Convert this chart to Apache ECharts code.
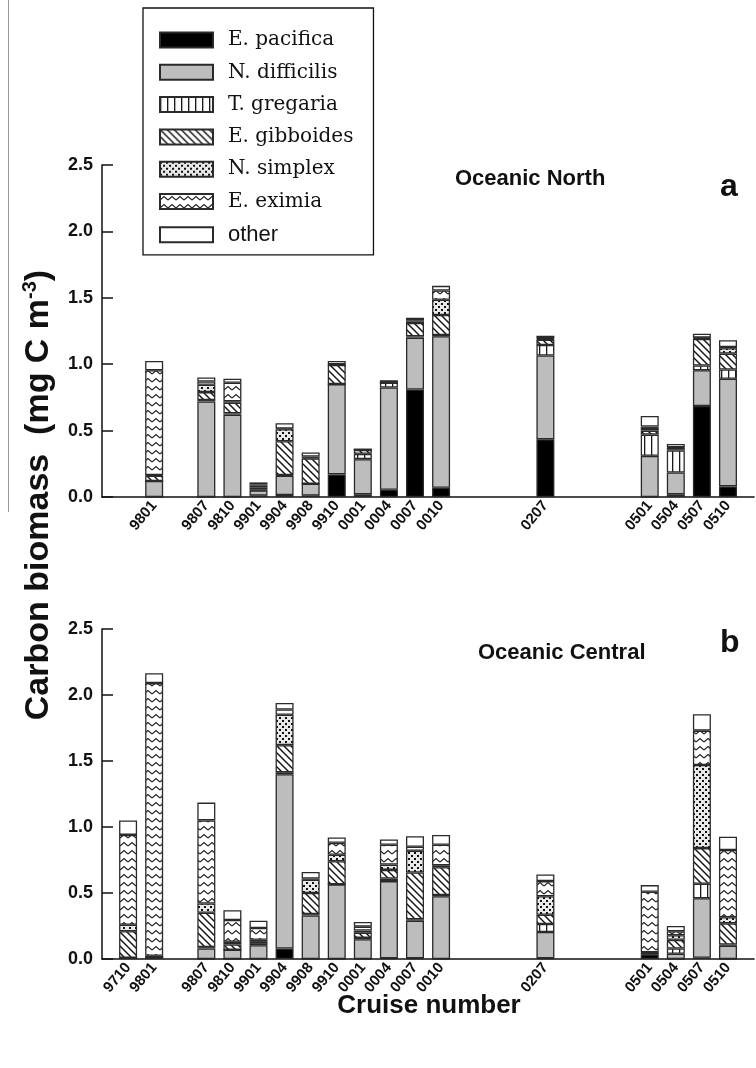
<!DOCTYPE html>
<html><head><meta charset="utf-8">
<script src="https://cdn.jsdelivr.net/npm/echarts@6/dist/echarts.min.js"></script>
<style>html,body{margin:0;padding:0;background:#fff}#c{width:756px;height:1068px}</style>
</head><body><div id="c"></div>
<script>
// Category slots along the cruise axis (blank = empty slot)
const slotLabelsA = ['', '', '9801', '', '9807', '9810', '9901', '9904', '9908', '9910', '0001', '0004', '0007', '0010', '', '', '', '0207', '', '', '', '0501', '0504', '0507', '0510', ''];
const slotLabelsB = ['', '9710', '9801', '', '9807', '9810', '9901', '9904', '9908', '9910', '0001', '0004', '0007', '0010', '', '', '', '0207', '', '', '', '0501', '0504', '0507', '0510', ''];

const species = ['E. pacifica', 'N. difficilis', 'T. gregaria', 'E. gibboides', 'N. simplex', 'E. eximia', 'other'];

// Panel a: Oceanic North
const cruisesA = ['9801','9807','9810','9901','9904','9908','9910','0001','0004','0007','0010','0207','0501','0504','0507','0510'];
const pacificaA  = [0, 0, 0, 0.01, 0.015, 0.01, 0.17, 0.02, 0.055, 0.81, 0.07, 0.435, 0, 0.02, 0.685, 0.08];
const difficilisA= [0.12, 0.72, 0.62, 0.04, 0.145, 0.09, 0.68, 0.265, 0.77, 0.39, 1.14, 0.63, 0.31, 0.165, 0.27, 0.81];
const gregariaA  = [0, 0.01, 0.01, 0.005, 0.005, 0, 0, 0.04, 0.035, 0.01, 0.01, 0.08, 0.16, 0.165, 0.035, 0.07];
const gibboidesA = [0.04, 0.06, 0.08, 0.015, 0.255, 0.19, 0.145, 0.03, 0, 0.10, 0.15, 0.04, 0.03, 0.01, 0.20, 0.12];
const simplexA   = [0.005, 0.055, 0.01, 0.015, 0.09, 0.005, 0, 0, 0, 0.01, 0.115, 0.005, 0.02, 0.01, 0.005, 0.04];
const eximiaA    = [0.79, 0.025, 0.14, 0.01, 0.005, 0.01, 0.005, 0, 0, 0.01, 0.07, 0.005, 0.01, 0.005, 0.005, 0.01];
const otherA     = [0.07, 0.03, 0.03, 0.015, 0.04, 0.03, 0.025, 0.01, 0.02, 0.02, 0.035, 0.02, 0.08, 0.025, 0.03, 0.05];

// Panel b: Oceanic Central
const cruisesB = ['9710','9801','9807','9810','9901','9904','9908','9910','0001','0004','0007','0010','0207','0501','0504','0507','0510'];
const pacificaB  = [0.01, 0.01, 0, 0, 0, 0.08, 0, 0, 0, 0.005, 0.005, 0, 0.005, 0.035, 0, 0.01, 0];
const difficilisB= [0, 0.005, 0.08, 0.07, 0.105, 1.32, 0.33, 0.565, 0.15, 0.585, 0.285, 0.475, 0.2, 0.005, 0.04, 0.45, 0.1];
const gregariaB  = [0, 0, 0.01, 0, 0.015, 0.015, 0.01, 0, 0.01, 0.02, 0.01, 0.01, 0.06, 0, 0.04, 0.11, 0.01];
const gibboidesB = [0.20, 0, 0.26, 0.04, 0.015, 0.205, 0.16, 0.175, 0.04, 0.065, 0.355, 0.21, 0.07, 0.005, 0.065, 0.27, 0.16];
const simplexB   = [0.05, 0.01, 0.07, 0.02, 0.01, 0.23, 0.1, 0.05, 0.015, 0.04, 0.165, 0.015, 0.14, 0.005, 0.035, 0.63, 0.046];
const eximiaB    = [0.68, 2.065, 0.63, 0.165, 0.09, 0.04, 0.01, 0.09, 0.03, 0.15, 0.03, 0.155, 0.115, 0.46, 0.03, 0.26, 0.51];
const otherB     = [0.11, 0.075, 0.135, 0.075, 0.055, 0.05, 0.05, 0.04, 0.035, 0.04, 0.08, 0.075, 0.05, 0.05, 0.04, 0.125, 0.1];

const yTicks = [0, 0.5, 1.0, 1.5, 2.0, 2.5];

// ---------- patterns ----------
function pat(w, h, draw) {
  const c = document.createElement('canvas');
  c.width = w; c.height = h;
  const g = c.getContext('2d');
  draw(g, w, h);
  return { image: c, repeat: 'repeat' };
}
const fills = [
  '#000000',
  '#bdbdbd',
  pat(7, 7, (g, w, h) => { g.fillStyle = '#fff'; g.fillRect(0, 0, w, h); g.fillStyle = '#1a1a1a'; g.fillRect(0, 0, 1.3, h); }),
  pat(7, 7, (g, w, h) => {
    g.fillStyle = '#fff'; g.fillRect(0, 0, w, h);
    g.strokeStyle = '#111'; g.lineWidth = 1.4;
    g.beginPath();
    g.moveTo(-1, -1); g.lineTo(w + 1, h + 1);
    g.moveTo(-1, h - 1); g.lineTo(1, h + 1);
    g.moveTo(w - 1, -1); g.lineTo(w + 1, 1);
    g.stroke();
  }),
  pat(6, 6, (g, w, h) => {
    g.fillStyle = '#e9e9e9'; g.fillRect(0, 0, w, h);
    g.fillStyle = '#111'; g.fillRect(0, 0, 2, 2); g.fillRect(3, 3, 2, 2);
  }),
  pat(8, 8, (g, w, h) => {
    g.fillStyle = '#fff'; g.fillRect(0, 0, w, h);
    g.strokeStyle = '#222'; g.lineWidth = 1.1;
    g.beginPath(); g.moveTo(0, 6); g.lineTo(4, 2.5); g.lineTo(8, 6); g.stroke();
  }),
  '#ffffff'
];

const dataA = [pacificaA, difficilisA, gregariaA, gibboidesA, simplexA, eximiaA, otherA];
const dataB = [pacificaB, difficilisB, gregariaB, gibboidesB, simplexB, eximiaB, otherB];

function toSlots(cruises, vals, labels) {
  return cruises.map((c, i) => [labels.indexOf(c), vals[i]]);
}

const series = [];
species.forEach((name, k) => {
  const base = {
    name, type: 'bar', barWidth: 18,
    itemStyle: { color: fills[k], borderColor: '#2a2a2a', borderWidth: 1.3 },
    emphasis: { disabled: true }, animation: false
  };
  series.push(Object.assign({}, base, { stack: 'A', xAxisIndex: 0, yAxisIndex: 0, data: toSlots(cruisesA, dataA[k], slotLabelsA) }));
  series.push(Object.assign({}, base, { stack: 'B', xAxisIndex: 1, yAxisIndex: 1, data: toSlots(cruisesB, dataB[k], slotLabelsB) }));
});

const xAxisBase = {
  type: 'category', boundaryGap: false,
  axisLine: { lineStyle: { color: '#111', width: 1.5 } },
  axisTick: { show: false },
  axisLabel: { rotate: 50, interval: 0, margin: 6, color: '#111', fontFamily: 'Liberation Sans', fontWeight: 'bold', fontSize: 15 },
  splitLine: { show: false }
};
const yAxisBase = {
  type: 'value', min: yTicks[0], max: yTicks[yTicks.length - 1], interval: 0.5,
  axisLine: { show: true, lineStyle: { color: '#111', width: 1.5 } },
  axisTick: { show: true, inside: true, length: 11, lineStyle: { color: '#111', width: 1.5 } },
  axisLabel: { margin: 9, color: '#111', fontFamily: 'Liberation Sans', fontWeight: 'bold', fontSize: 18, formatter: v => v.toFixed(1) },
  splitLine: { show: false }
};

const chart = echarts.init(document.getElementById('c'), null, { renderer: 'canvas' });
chart.setOption({
  backgroundColor: '#fff',
  animation: false,
  grid: [
    { left: 102, top: 165, width: 662.5, height: 332 },
    { left: 102, top: 629, width: 662.5, height: 330 }
  ],
  xAxis: [
    Object.assign({}, xAxisBase, { gridIndex: 0, data: slotLabelsA }),
    Object.assign({}, xAxisBase, { gridIndex: 1, data: slotLabelsB })
  ],
  yAxis: [
    Object.assign({}, yAxisBase, { gridIndex: 0 }),
    Object.assign({}, yAxisBase, { gridIndex: 1 })
  ],
  legend: {
    orient: 'vertical', left: 143, top: 8,
    itemWidth: 53, itemHeight: 15, itemGap: 12.3,
    padding: [22, 20, 9, 16],
    borderColor: '#111', borderWidth: 1.3,
    selectedMode: false, icon: 'rect',
    data: species,
    formatter: n => n === 'other' ? '{s|other}' : '{r|' + n + '}',
    textStyle: {
      padding: [0, 0, 0, 10],
      rich: {
        r: { fontFamily: 'DejaVu Serif', fontSize: 20, lineHeight: 22, color: '#111' },
        s: { fontFamily: 'Liberation Sans', fontSize: 22, lineHeight: 22, color: '#111' }
      }
    }
  },
  graphic: [
    { type: 'line', shape: { x1: 8.5, y1: 0, x2: 8.5, y2: 512 }, style: { stroke: '#9a9a9a', lineWidth: 1 }, silent: true },
    { type: 'text', left: 455, top: 168, style: { text: 'Oceanic North', font: 'bold 22px "Liberation Sans"', fill: '#111' } },
    { type: 'text', left: 720, top: 171, style: { text: 'a', font: 'bold 32px "Liberation Sans"', fill: '#111' } },
    { type: 'text', left: 478, top: 642, style: { text: 'Oceanic Central', font: 'bold 22px "Liberation Sans"', fill: '#111' } },
    { type: 'text', left: 720, top: 627, style: { text: 'b', font: 'bold 32px "Liberation Sans"', fill: '#111' } },
    { type: 'text', x: 429, y: 1006, style: { text: 'Cruise number', font: 'bold 26px "Liberation Sans"', fill: '#111', align: 'center', verticalAlign: 'middle' } },
    { type: 'text', x: 39, y: 495, rotation: Math.PI / 2,
      style: {
        text: '{n|Carbon biomass  (mg C m}{s|-3}{n|)}', align: 'center', verticalAlign: 'middle',
        rich: {
          n: { fontFamily: 'Liberation Sans', fontWeight: 'bold', fontSize: 34, lineHeight: 38, fill: '#111' },
          s: { fontFamily: 'Liberation Sans', fontWeight: 'bold', fontSize: 20, lineHeight: 38, verticalAlign: 'top', fill: '#111' }
        }
      } }
  ],
  series
});
</script></body></html>
